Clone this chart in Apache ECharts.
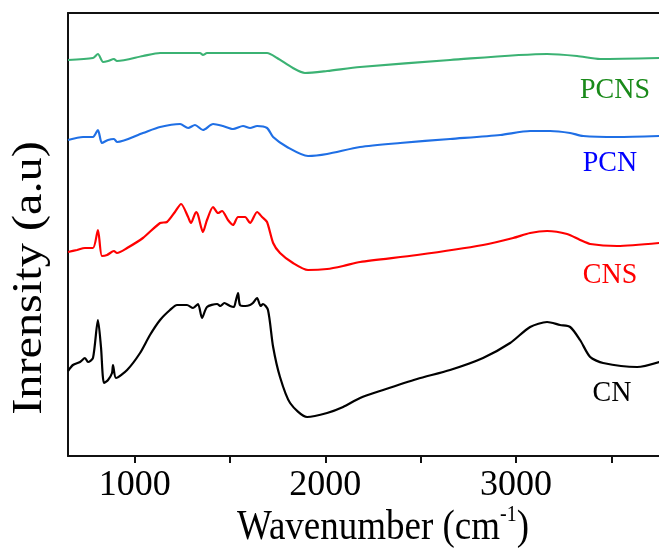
<!DOCTYPE html>
<html>
<head>
<meta charset="utf-8">
<script src="https://cdn.jsdelivr.net/npm/echarts@6/dist/echarts.min.js"></script>
<style>
html,body{margin:0;padding:0;background:#fff;}
#c{width:659px;height:551px;}
</style>
</head>
<body>
<div id="c"></div>
<script>
// Wavenumber (cm-1) / intensity (a.u., offset stacked) pairs
const cnData = [
  [650,85],[676,91],[713,94],[739,98],[755,94],[781,98],[807,136],[823,109],[839,73],[860,76],
  [881,83],[886,91],[902,78],[960,86],[1028,103],[1080,121],[1133,136],[1185,146],[1222,151],
  [1274,151],[1306,148],[1332,152],[1353,138],[1379,149],[1432,152],[1450,150],[1470,153],
  [1500,150],[1520,149],[1530,155],[1542,163],[1552,151],[1580,150],[1605,151],[1620,153],
  [1642,158],[1660,150],[1673,152],[1699,146],[1726,109],[1762,79],[1815,53],[1904,39],
  [2009,43],[2093,49],[2182,58],[2303,66],[2481,77],[2654,86],[2827,98],[2969,113],[3074,129],
  [3163,134],[3231,131],[3284,129],[3336,116],[3389,99],[3457,93],[3635,89],[3751,94]
];
const cnsData = [
  [650,204],[697,206],[739,208],[781,208],[807,226],[828,200],[855,201],[891,205],[907,203],
  [960,208],[1043,218],[1133,233],[1169,234],[1211,244],[1243,252],[1280,239],[1295,233],
  [1322,244],[1332,241],[1358,224],[1379,236],[1411,249],[1437,243],[1458,245],[1489,236],
  [1516,231],[1542,239],[1579,239],[1605,233],[1642,244],[1668,239],[1694,234],[1726,213],
  [1762,203],[1830,193],[1909,186],[2009,187],[2093,190],[2182,194],[2481,201],[2827,211],
  [2985,218],[3074,223],[3163,225],[3268,222],[3336,216],[3389,212],[3530,210],[3751,213]
];
const pcnData = [
  [650,316],[729,319],[781,319],[807,326],[828,313],[860,316],[891,317],[907,314],[1043,323],
  [1133,329],[1238,332],[1280,328],[1316,331],[1358,326],[1411,332],[1463,330],[1516,327],
  [1568,330],[1605,328],[1642,330],[1694,328],[1726,319],[1799,309],[1909,300],[2009,302],
  [2182,309],[2392,313],[2654,317],[2917,321],[3074,325],[3179,325],[3284,323],[3352,320],
  [3530,319],[3751,320]
];
const pcnsData = [
  [650,396],[781,398],[807,402],[834,394],[860,395],[891,397],[907,395],[1043,400],[1133,403],
  [1342,403],[1358,401],[1379,403],[1694,403],[1747,398],[1830,388],[1893,383],[2009,385],
  [2182,389],[2654,396],[3163,402],[3320,400],[3441,397],[3751,398]
];
const seriesNames = ['CN', 'CNS', 'PCN', 'PCNS'];
const tickValues = [1000, 1500, 2000, 2500, 3000, 3500];
const labelValues = [1000, 2000, 3000];

const chart = echarts.init(document.getElementById('c'), null, {renderer: 'canvas'});
const serif = '"Liberation Serif", "Times New Roman", serif';
const lineColors = ['#000000', '#ff0000', '#1f6fe5', '#3bb273'];
const textColors = ['#000000', '#ff0000', '#0000ff', '#1a8a1a'];
const datasets = [cnData, cnsData, pcnData, pcnsData];
const labelPos = [[612, 393], [610, 275], [610, 163], [615, 90]];

chart.setOption({
  animation: false,
  grid: {left: 68, top: 13, right: 0, bottom: 95},
  xAxis: [{
    type: 'value', min: 650, max: 3750, position: 'bottom',
    axisLine: {lineStyle: {color: '#111', width: 2}},
    axisTick: {show: true, inside: false, length: 7, lineStyle: {color: '#111', width: 2}, customValues: tickValues},
    axisLabel: {color: '#000', fontFamily: serif, fontSize: 36, margin: 12, customValues: labelValues,
      formatter: v => String(v)},
    splitLine: {show: false}
  }, {
    type: 'value', min: 650, max: 3750, position: 'top',
    axisLine: {show: true, lineStyle: {color: '#111', width: 2}},
    axisTick: {show: false}, axisLabel: {show: false}, splitLine: {show: false}
  }],
  yAxis: {
    type: 'value', min: 0, max: 443,
    axisLine: {show: true, lineStyle: {color: '#111', width: 2}},
    axisTick: {show: false}, axisLabel: {show: false}, splitLine: {show: false}
  },
  series: datasets.map((d, i) => ({
    name: seriesNames[i], type: 'line', data: d, showSymbol: false, smooth: 0.25,
    lineStyle: {color: lineColors[i], width: 2.2}, xAxisIndex: 0
  })),
  graphic: [
    ...labelPos.map((p, i) => ({
      type: 'text', x: p[0], y: p[1], scaleY: 1.08,
      style: {text: seriesNames[i], fill: textColors[i], font: '28px ' + serif, align: 'center', verticalAlign: 'middle'}
    })),
    {
      type: 'text', x: 30, y: 278, rotation: Math.PI / 2, scaleX: 1.15,
      style: {text: 'Inrensity (a.u)', fill: '#000', font: '42px ' + serif, align: 'center', verticalAlign: 'middle'}
    },
    {
      type: 'text', x: 383, y: 528, scaleY: 1.15,
      style: {
        text: '{a|Wavenumber (cm}{s|-1}{a|)}', align: 'center', verticalAlign: 'middle',
        rich: {
          a: {fontFamily: serif, fontSize: 37, fill: '#000', color: '#000'},
          s: {fontFamily: serif, fontSize: 20, fill: '#000', color: '#000', padding: [0, 0, 22, 0]}
        }
      }
    }
  ]
});
</script>
</body>
</html>
